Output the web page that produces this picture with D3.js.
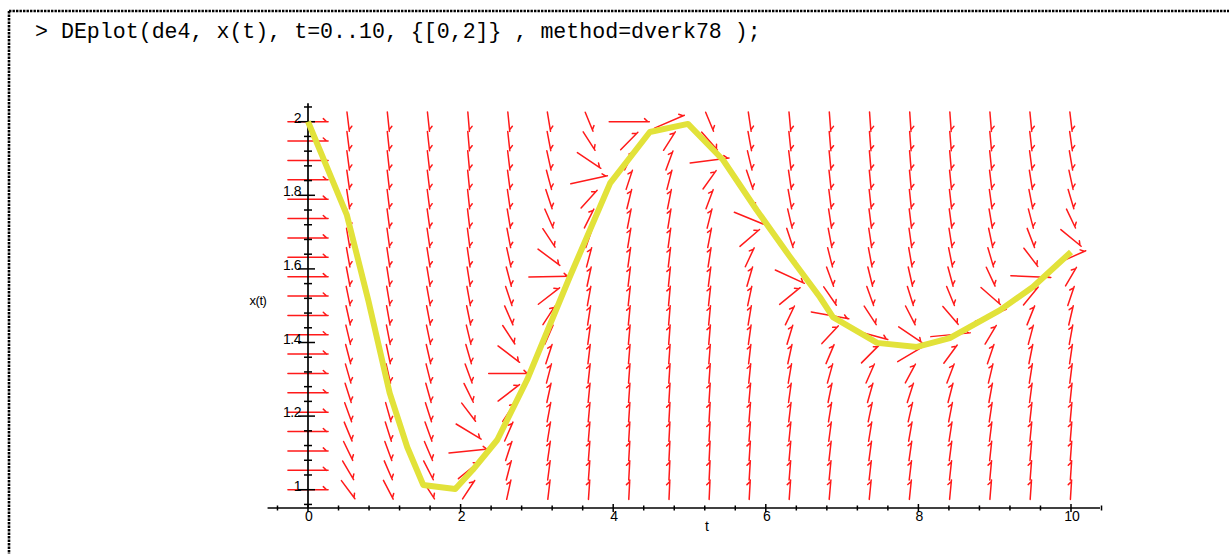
<!DOCTYPE html>
<html>
<head>
<meta charset="utf-8">
<script src="https://cdn.jsdelivr.net/npm/d3@7"></script>
<style>
  html, body { margin: 0; padding: 0; background: #fff; }
  svg { display: block; }
</style>
</head>
<body>
<svg id="chart" width="1229" height="554"></svg>
<script>
// ---- data ----
const commandText = "> DEplot(de4, x(t), t=0..10, {[0,2]} , method=dverk78 );";
// solution curve x(t) (initial condition x(0)=2)
const solT = [0, 0.51, 0.79, 1.07, 1.30, 1.51, 1.69, 1.93, 2.16, 2.48, 2.87, 3.43, 3.96, 4.48, 4.98, 5.44, 5.88, 6.32, 6.71, 6.88, 7.46, 7.98, 8.41, 9.07, 9.50, 10];
const solX = [2.0, 1.746, 1.515, 1.263, 1.116, 1.013, 1.008, 1.002, 1.054, 1.135, 1.298, 1.578, 1.833, 1.972, 1.994, 1.896, 1.760, 1.632, 1.523, 1.469, 1.399, 1.388, 1.412, 1.488, 1.551, 1.646];
// direction field: per column, level where arrows are horizontal, and steepness
const fieldLevel = [1.5, 0.8, 0.75, 0.8, 1.113, 1.316, 1.58, 1.855, 2.0, 2.02, 1.9, 1.72, 1.56, 1.466, 1.41, 1.393, 1.425, 1.49, 1.577, 1.65];
const fieldGain  = [0, 1.4, 1.6, 1.6, 2.8, 3, 3, 3.5, 4, 4.5, 5, 5, 5, 5, 5, 5, 5, 5, 5, 5];
const tRange = [0, 10];
const xRange = [1, 2];
const tMajorTicks = [0, 2, 4, 6, 8, 10];
const tTickLabels = ["0", "2", "4", "6", "8", "10"];
const xMajorTicks = [1, 1.2, 1.4, 1.6, 1.8, 2];
const xTickLabels = ["1", "1.2", "1.4", "1.6", "1.8", "2"];
const tAxisLabel = "t";
const xAxisLabel = "x(t)";

// ---- drawing ----
const svg = d3.select("#chart");
const W = 1229, H = 554;

// dotted frame (top and left)
svg.append("line").attr("x1", 9).attr("y1", 11).attr("x2", W).attr("y2", 11)
  .attr("stroke", "#000").attr("stroke-width", 2.6).attr("stroke-dasharray", "2.4 1.1");
svg.append("line").attr("x1", 9).attr("y1", 11).attr("x2", 9).attr("y2", H)
  .attr("stroke", "#000").attr("stroke-width", 2.6).attr("stroke-dasharray", "2.4 1.1");

// command line
svg.append("text").attr("x", 35).attr("y", 38)
  .attr("font-family", "'Liberation Mono', 'Courier New', monospace")
  .attr("font-size", 21.6).attr("fill", "#000")
  .attr("xml:space", "preserve").style("white-space", "pre")
  .text(commandText);

const x = d3.scaleLinear().domain(tRange).range([308, 1071]);
const y = d3.scaleLinear().domain(xRange).range([489.7, 121.7]);

// direction field grid (20 x 20 as Maple default)
const nCols = fieldLevel.length, nRows = 20;
const dT = (tRange[1] - tRange[0]) / (nCols - 1);
const dX = (xRange[1] - xRange[0]) / (nRows - 1);
const dTpx = x(dT) - x(0);
const dXpx = y(xRange[0]) - y(xRange[0] + dX);

const arrows = [];
for (let j = 0; j < nCols; j++) {
  const t = tRange[0] + j * dT;
  for (let i = 0; i < nRows; i++) {
    const xv = xRange[0] + i * dX;
    const f = fieldGain[j] * (fieldLevel[j] - xv);
    let u = 1 / dT, v = f / dX;
    const L = Math.hypot(u, v);
    u /= L; v /= L;
    const cx = x(t), cy = y(xv);
    const px = u * dTpx, py = -v * dXpx;
    arrows.push({x1: cx - px / 2, y1: cy - py / 2, x2: cx + px / 2, y2: cy + py / 2});
  }
}

const field = svg.append("g").attr("stroke", "#ff1a1a").attr("stroke-width", 1.5)
  .attr("fill", "none").attr("stroke-linecap", "round");
field.selectAll("path").data(arrows).join("path")
  .attr("d", a => {
    const dx = a.x2 - a.x1, dy = a.y2 - a.y1;
    const len = Math.hypot(dx, dy) || 1;
    const bx = -dx / len, by = -dy / len;
    const ang = Math.PI / 4.2;
    const hx = bx * Math.cos(ang) - by * Math.sin(ang);
    const hy = bx * Math.sin(ang) + by * Math.cos(ang);
    const hl = 4.5;
    return `M${a.x1},${a.y1}L${a.x2},${a.y2}M${a.x2 - dx / len * 1.5},${a.y2 - dy / len * 1.5}l${hx * hl},${hy * hl}`;
  });

// axes
const axisG = svg.append("g").attr("stroke", "#000");
const axisY = 508;
axisG.append("line").attr("x1", x(-0.53)).attr("x2", x(10.38)).attr("y1", axisY).attr("y2", axisY).attr("stroke-width", 1.7);
axisG.append("line").attr("x1", x(0)).attr("x2", x(0)).attr("y1", y(2.05)).attr("y2", axisY).attr("stroke-width", 1.7);

const tMinor = d3.range(-0.4, 10.41, 0.4);
axisG.selectAll("line.tm").data(tMinor).join("line").attr("class", "tm")
  .attr("x1", d => x(d)).attr("x2", d => x(d))
  .attr("y1", d => Math.abs(d / 2 - Math.round(d / 2)) < 1e-6 ? axisY - 4 : axisY - 2.5)
  .attr("y2", d => Math.abs(d / 2 - Math.round(d / 2)) < 1e-6 ? axisY + 4 : axisY + 2.5)
  .attr("stroke-width", 1.5);

const xMinor = d3.range(0.96, 2.041, 0.04);
axisG.selectAll("line.xm").data(xMinor).join("line").attr("class", "xm")
  .attr("y1", d => y(d)).attr("y2", d => y(d))
  .attr("x1", d => Math.abs(d / 0.2 - Math.round(d / 0.2)) < 1e-6 ? x(0) - 10 : x(0) - 4)
  .attr("x2", d => Math.abs(d / 0.2 - Math.round(d / 0.2)) < 1e-6 ? x(0) + 7 : x(0) + 4)
  .attr("stroke-width", 1.5);

const lblFont = "'Liberation Sans', Arial, sans-serif";
svg.append("g").selectAll("text").data(tMajorTicks).join("text")
  .attr("x", d => x(d) + 1).attr("y", 521)
  .attr("text-anchor", "middle").attr("font-family", lblFont).attr("font-size", 14)
  .text((d, i) => tTickLabels[i]);
svg.append("g").selectAll("text").data(xMajorTicks).join("text")
  .attr("x", 301).attr("y", d => y(d) + 1)
  .attr("text-anchor", "end").attr("font-family", lblFont).attr("font-size", 14)
  .attr("letter-spacing", -0.5)
  .text((d, i) => xTickLabels[i]);
svg.append("text").attr("x", 707).attr("y", 531).attr("text-anchor", "middle")
  .attr("font-family", lblFont).attr("font-size", 14).text(tAxisLabel);
svg.append("text").attr("x", 258).attr("y", 305).attr("text-anchor", "middle")
  .attr("font-family", lblFont).attr("font-size", 13).attr("letter-spacing", -0.5).text(xAxisLabel);

// solution curve
const sol = solT.map((t, i) => [t, solX[i]]);
svg.append("path").datum(sol)
  .attr("d", d3.line().x(d => x(d[0])).y(d => y(d[1])))
  .attr("fill", "none").attr("stroke", "#e2e23a").attr("stroke-width", 6)
  .attr("stroke-linejoin", "round");
</script>
</body>
</html>
